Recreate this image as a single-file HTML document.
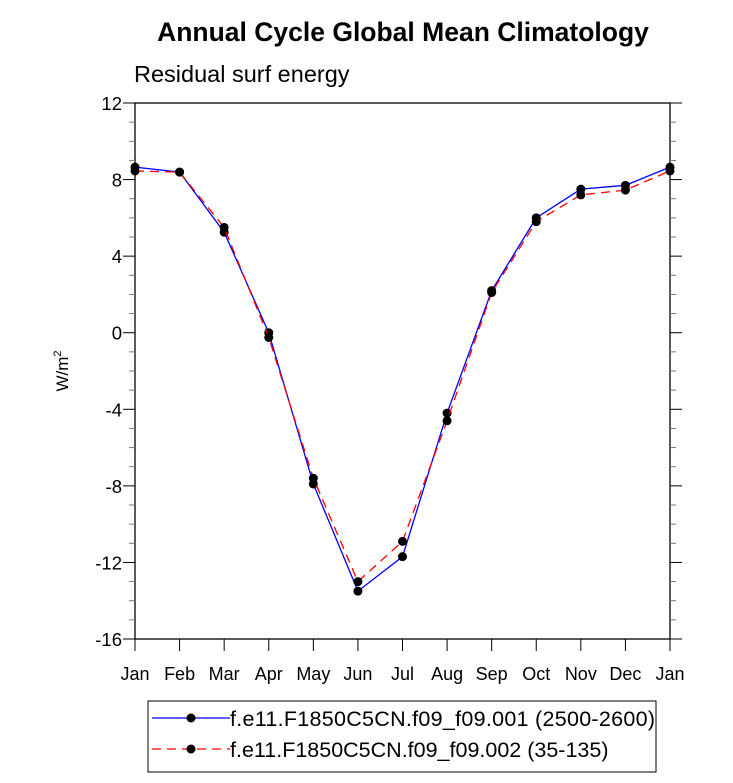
<!DOCTYPE html>
<html><head><meta charset="utf-8"><style>
body{margin:0;background:#fff;width:733px;height:778px;overflow:hidden}
svg text{font-family:"Liberation Sans",Arial,sans-serif}
</style></head><body>
<svg id="chart" width="733" height="778" xmlns="http://www.w3.org/2000/svg">
<text x="403" y="41" text-anchor="middle" font-size="26.5" font-weight="bold">Annual Cycle Global Mean Climatology</text>
<text x="134" y="82" font-size="23.5">Residual surf energy</text>
<text transform="translate(68,371) rotate(-90)" text-anchor="middle" font-size="17">W/m<tspan dy="-7" font-size="11">2</tspan></text>
<g id="axes"></g>
<g id="series"></g>
<g>
<rect x="148" y="701" width="508" height="71" fill="none" stroke="#000" stroke-width="1"/>
<line x1="152" y1="718" x2="230" y2="718" stroke="#00f" stroke-width="1.2"/>
<circle cx="191" cy="718" r="4.5" fill="#000"/>
<text x="230" y="726" textLength="425" font-size="21.5">f.e11.F1850C5CN.f09_f09.001 (2500-2600)</text>
<line x1="152" y1="749" x2="230" y2="749" stroke="#f00" stroke-width="1.2" stroke-dasharray="9,6"/>
<circle cx="191" cy="749" r="4.5" fill="#000"/>
<text x="230" y="757" font-size="21.5">f.e11.F1850C5CN.f09_f09.002 (35-135)</text>
</g>
</svg>
<script>
const months=["Jan","Feb","Mar","Apr","May","Jun","Jul","Aug","Sep","Oct","Nov","Dec","Jan"];
const series001=[8.65,8.39,5.25,0.0,-7.9,-13.5,-11.7,-4.2,2.2,6.0,7.5,7.7,8.65];
const series002=[8.45,8.39,5.5,-0.25,-7.6,-13.0,-10.9,-4.6,2.1,5.8,7.2,7.45,8.45];
const yTicks=[12,8,4,0,-4,-8,-12,-16];
const NS="http://www.w3.org/2000/svg";
const L=135,R=670,T=103,B=639,ymin=-16,ymax=12;
const xs=i=>L+(R-L)*i/(months.length-1);
const ys=v=>B-(v-ymin)/(ymax-ymin)*(B-T);
function mk(tag,at,parent){const e=document.createElementNS(NS,tag);for(const k in at)e.setAttribute(k,at[k]);parent.appendChild(e);return e;}
const ax=document.getElementById('axes');
const frame=mk('rect',{x:L,y:T,width:R-L,height:B-T,fill:'none',stroke:'#000','stroke-width':1.3},ax);


for(let v=ymin;v<=ymax;v++){
  const major=(v%4===0);const len=major?12:6;const y=ys(v);
  mk('line',{x1:L-len,y1:y,x2:L,y2:y,stroke:major?'#000':'#777','stroke-width':1},ax);
  mk('line',{x1:R,y1:y,x2:R+len,y2:y,stroke:major?'#000':'#777','stroke-width':1},ax);
}
yTicks.forEach(v=>{
  const t=mk('text',{x:L-13,y:ys(v)+7,'text-anchor':'end','font-size':18.5},ax);
  t.textContent=v;
  
  
});
months.forEach((m,i)=>{
  const x=xs(i);
  mk('line',{x1:x,y1:B,x2:x,y2:B+12,stroke:'#000','stroke-width':1},ax);
  const t=mk('text',{x:x,y:B+41,'text-anchor':'middle','font-size':18},ax);
  t.textContent=m;
  
  
});
const sg=document.getElementById('series');
function draw(vals,color,dash,name){
  const p=mk('polyline',{points:vals.map((v,i)=>xs(i)+','+ys(v)).join(' '),fill:'none',stroke:color,'stroke-width':1.3},sg);
  if(dash)p.setAttribute('stroke-dasharray',dash);
  
  
  vals.forEach((v,i)=>{
    const c=mk('circle',{cx:xs(i),cy:ys(v),r:4.5,fill:'#000'},sg);
    
    
  });
}
draw(series001,'#00f',null,'series-001');
draw(series002,'#f00','9,6','series-002');
</script>
</body></html>
